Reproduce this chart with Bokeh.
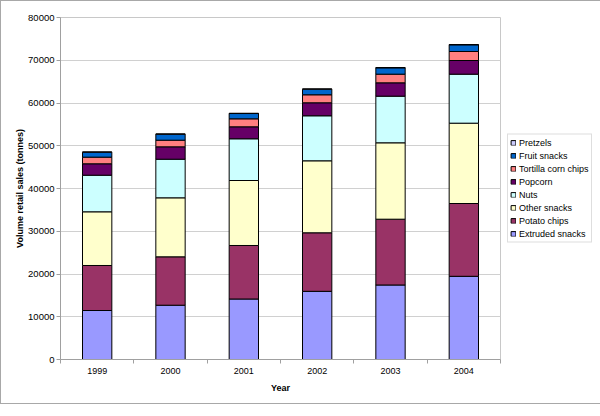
import numpy as np
from bokeh.plotting import figure
from bokeh.models import (ColumnDataSource, Range1d, FixedTicker, Legend, LegendItem)
from bokeh.embed import file_html
from bokeh.resources import INLINE

years = ["1999", "2000", "2001", "2002", "2003", "2004"]
extruded_snacks = [11460, 12700, 14150, 15950, 17430, 19460]
potato_chips = [10530, 11320, 12520, 13690, 15390, 17030]
other_snacks = [12560, 13800, 15200, 16840, 17870, 18790]
nuts = [8560, 9030, 9760, 10530, 10910, 11460]
popcorn = [2670, 2900, 2800, 3040, 3120, 3200]
tortilla_corn_chips = [1550, 1550, 1870, 1870, 2020, 2110]
fruit_snacks = [1160, 1400, 1240, 1310, 1490, 1560]
pretzels = [60, 60, 60, 60, 60, 60]

series = ["Extruded snacks", "Potato chips", "Other snacks", "Nuts", "Popcorn",
          "Tortilla corn chips", "Fruit snacks", "Pretzels"]
colors = ["#9999FF", "#993366", "#FFFFCC", "#CCFFFF", "#660066",
          "#FF8080", "#0066CC", "#CCCCFF"]

xpos = np.arange(len(years)) + 0.5
data = {"x": xpos,
        "Extruded snacks": extruded_snacks, "Potato chips": potato_chips,
        "Other snacks": other_snacks, "Nuts": nuts, "Popcorn": popcorn,
        "Tortilla corn chips": tortilla_corn_chips, "Fruit snacks": fruit_snacks,
        "Pretzels": pretzels}
source = ColumnDataSource(data)

FONT = "Liberation Sans"

p = figure(frame_width=440, frame_height=342, output_backend="svg", toolbar_location=None,
           x_range=Range1d(0, len(years)), y_range=Range1d(0, 80000),
           min_border_left=59, min_border_top=16, min_border_bottom=44,
           min_border_right=0, background_fill_color="white",
           border_fill_color="white")

renderers = p.vbar_stack(series, x="x", width=0.4, source=source, color=colors,
                         line_color="black", line_width=1)

# x axis
p.xaxis.ticker = FixedTicker(ticks=list(xpos), minor_ticks=list(range(len(years) + 1)))
p.xaxis.major_label_overrides = {float(x): y for x, y in zip(xpos, years)}
p.xaxis.major_tick_out = 0
p.xaxis.minor_tick_out = 4
p.xaxis.minor_tick_in = 0
p.xaxis.minor_tick_line_color = "#a0a0a0"
p.xaxis.major_label_standoff = 4
p.xaxis.axis_label = "Year"
p.xaxis.axis_label_standoff = 6

# y axis
p.yaxis.ticker = FixedTicker(ticks=list(range(0, 80001, 10000)))
p.yaxis.formatter.use_scientific = False
p.yaxis.major_tick_out = 4
p.yaxis.major_tick_in = 0
p.yaxis.minor_tick_line_color = None
p.yaxis.major_label_standoff = 2
p.yaxis.axis_label = "Volume retail sales (tonnes)"
p.yaxis.axis_label_standoff = 0

for ax in (p.xaxis, p.yaxis):
    ax.axis_line_color = "#a0a0a0"
    ax.major_label_text_font = FONT
    ax.major_label_text_font_size = "9px"
    ax.major_label_text_color = "black"
    ax.axis_label_text_font = FONT
    ax.axis_label_text_font_size = "9px"
    ax.axis_label_text_font_style = "bold"
    ax.axis_label_text_color = "black"
p.yaxis.major_label_text_font_size = "9.5px"
p.yaxis.major_tick_line_color = "#a0a0a0"
p.xaxis.major_tick_line_color = None

p.xgrid.grid_line_color = None
p.ygrid.grid_line_color = "#d0d0d0"
p.outline_line_color = "#c8c8c8"

items = [LegendItem(label=name, renderers=[r]) for name, r in zip(series, renderers)]
items.reverse()
legend = Legend(items=items, location="center_left", margin=7, padding=2,
                spacing=1, label_height=12, glyph_height=6, glyph_width=6,
                label_standoff=3, label_text_font=FONT, label_text_font_size="9px",
                label_text_color="black", border_line_color="#bdbdbd",
                background_fill_color="white")
p.add_layout(legend, "right")

p.styles = {"border": "1px solid #a8a8a8"}

open("out.html", "w").write(file_html(p, INLINE))
